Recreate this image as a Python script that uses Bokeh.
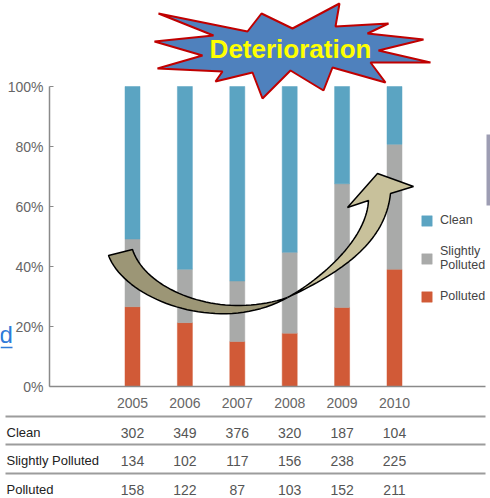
import numpy as np
from bokeh.plotting import figure
from bokeh.models import (Range1d, LinearAxis, FixedTicker, PrintfTickFormatter,
                          Legend, LegendItem, ColumnDataSource)
from bokeh.core.properties import value
from bokeh.embed import file_html
from bokeh.resources import INLINE

# ---------------- data ----------------
years = ["2005", "2006", "2007", "2008", "2009", "2010"]
clean = [302, 349, 376, 320, 187, 104]
slightly = [134, 102, 117, 156, 238, 225]
polluted = [158, 122, 87, 103, 152, 211]
row_names = ["Clean", "Slightly Polluted", "Polluted"]
legend_labels = ["Clean", "Slightly\nPolluted", "Polluted"]
y_ticks = [0, 20, 40, 60, 80, 100]
banner_text = "Deterioration"
link_text = "d"

# ---------------- layout helpers (page pixels -> data units) ----------------
W, H = 490, 498
X0, DX = 132.0, 52.4      # x of first bar centre, spacing between bars
Y0, DY = 386.0, 3.0       # y of 0 %, pixels per percent


def fx(X):
    return (X - X0) / DX


def fy(Y):
    return (Y0 - Y) / DY


FONT = "Liberation Sans"
C_CLEAN, C_SLIGHT, C_POLL = "#5ba4c2", "#a9aaa9", "#d15a37"

p = figure(width=W, height=H,
           x_range=Range1d(fx(0), fx(W)), y_range=Range1d(fy(H), fy(0)),
           output_backend="svg", toolbar_location=None, min_border=0,
           x_axis_type=None, y_axis_type=None)
p.outline_line_color = None
p.background_fill_color = "white"

# ---------------- stacked 100 % bars ----------------
cl = np.array(clean, float)
sl = np.array(slightly, float)
po = np.array(polluted, float)
tot = cl + sl + po
src = ColumnDataSource(dict(x=np.arange(len(years)),
                            Polluted=100 * po / tot,
                            Slightly=100 * sl / tot,
                            Clean=100 * cl / tot))
rs = p.vbar_stack(["Polluted", "Slightly", "Clean"], x="x", width=15 / DX, source=src,
                  fill_color=[C_POLL, C_SLIGHT, C_CLEAN],
                  line_color=[C_POLL, C_SLIGHT, C_CLEAN], line_width=0.5)
r_poll, r_slight, r_clean = rs

# ---------------- axes ----------------
yax = LinearAxis(fixed_location=fx(49), bounds=(0, 100),
                 ticker=FixedTicker(ticks=y_ticks),
                 formatter=PrintfTickFormatter(format="%d%%"))
yax.major_tick_in = 4
yax.major_tick_out = 0
yax.minor_tick_in = 0
yax.minor_tick_out = 0
yax.axis_line_color = "#8a8a8a"
yax.axis_line_width = 1.5
yax.major_tick_line_color = "#8a8a8a"
yax.major_label_text_font = FONT
yax.major_label_text_font_size = "14px"
yax.major_label_text_color = "#666666"
yax.major_label_standoff = 6
p.add_layout(yax, "left")

xax = LinearAxis(fixed_location=0, bounds=(fx(49), fx(485)),
                 ticker=FixedTicker(ticks=list(range(len(years)))),
                 major_label_overrides={i: y for i, y in enumerate(years)})
xax.major_tick_in = 0
xax.major_tick_out = 0
xax.minor_tick_in = 0
xax.minor_tick_out = 0
xax.axis_line_color = "#8a8a8a"
xax.axis_line_width = 1.5
xax.major_label_text_font = FONT
xax.major_label_text_font_size = "14px"
xax.major_label_text_color = "#666666"
xax.major_label_standoff = 11
p.add_layout(xax, "below")

# ---------------- data table under the chart ----------------
TABLE_LINES = [416, 444, 473]
ROW_Y = [432, 460, 489]
for Yl in TABLE_LINES:
    p.segment(x0=[fx(5)], x1=[fx(485)], y0=[fy(Yl)], y1=[fy(Yl)],
              line_color="#9c9c9c", line_width=2)
n = len(years)
for name, vals, Yr in zip(row_names, [clean, slightly, polluted], ROW_Y):
    p.text(x=[fx(6)], y=[fy(Yr)], text=[name], text_align="left", text_baseline="middle",
           text_font=value(FONT), text_font_size="13px", text_color="#222222")
    p.text(x=np.arange(n), y=[fy(Yr)] * n, text=[str(v) for v in vals],
           text_align="center", text_baseline="middle",
           text_font=value(FONT), text_font_size="14px", text_color="#555555")

# ---------------- curved arrow ----------------


def bez(p0, p1, p2, p3, k=40):
    t = np.linspace(0, 1, k)[:, None]
    P = np.array([p0, p1, p2, p3], float)
    return ((1 - t) ** 3) * P[0] + 3 * ((1 - t) ** 2) * t * P[1] + 3 * (1 - t) * t ** 2 * P[2] + t ** 3 * P[3]


TWIST = (287, 297)
outer = bez((108, 255), (125, 300), (220, 335), TWIST)
inner = bez((132, 249), (145, 290), (220, 320), TWIST)
back = np.vstack([outer, inner[::-1]])
p.patch(x=fx(back[:, 0]), y=fy(back[:, 1]), fill_color="#9c9676",
        line_color="black", line_width=1.5)

left_edge = bez(TWIST, (318, 280), (366, 240), (368, 200))
head = np.array([(347, 207), (377, 173), (413, 186), (390, 193)], float)
right_edge = bez(TWIST, (345, 270), (385, 240), (390, 193))
front = np.vstack([left_edge, head, right_edge[::-1]])
p.patch(x=fx(front[:, 0]), y=fy(front[:, 1]), fill_color="#c8c19b",
        line_color="black", line_width=1.5)

# ---------------- starburst banner ----------------
STAR = [(158, 13), (247, 31), (261, 13), (292, 28), (339, 3), (335, 26), (388, 23),
        (367, 33), (423, 39), (378, 50), (430, 62), (370, 62), (385, 82), (332, 67),
        (323, 90), (290, 70), (262, 98), (252, 72), (215, 81), (222, 71), (157, 68),
        (202, 55), (154, 41), (213, 35)]
sx = np.array([s[0] for s in STAR], float)
sy = np.array([s[1] for s in STAR], float)
p.patch(x=fx(sx), y=fy(sy), fill_color="#4f81bd", line_color="#c00000", line_width=2)
p.text(x=[fx(290)], y=[fy(48.5)], text=[banner_text], text_align="center",
       text_baseline="middle", text_font=value(FONT), text_font_style="bold",
       text_font_size="26px", text_color="#ffff00")

# ---------------- stray page fragments ----------------
p.text(x=[fx(-1)], y=[fy(334)], text=[link_text], text_align="left",
       text_baseline="middle", text_font=value(FONT), text_font_size="24px",
       text_color="#2f7bd9")
p.segment(x0=[fx(0)], x1=[fx(12)], y0=[fy(347)], y1=[fy(347)],
          line_color="#2f7bd9", line_width=1.5)
p.quad(left=[fx(486)], right=[fx(489.5)], top=[fy(134)], bottom=[fy(205)],
       fill_color="#9d9db3", line_color=None)

# ---------------- legend ----------------
legend = Legend(items=[LegendItem(label=lbl, renderers=[r]) for lbl, r in
                       zip(legend_labels, [r_clean, r_slight, r_poll])],
                location=(420, 195), orientation="vertical",
                padding=0, margin=0, spacing=17, glyph_width=13, glyph_height=13,
                label_standoff=7, label_height=13,
                label_text_font=FONT, label_text_font_size="12.5px",
                label_text_color="#444444", border_line_color=None,
                background_fill_alpha=0)
p.add_layout(legend)

open("out.html", "w").write(file_html(p, INLINE))
